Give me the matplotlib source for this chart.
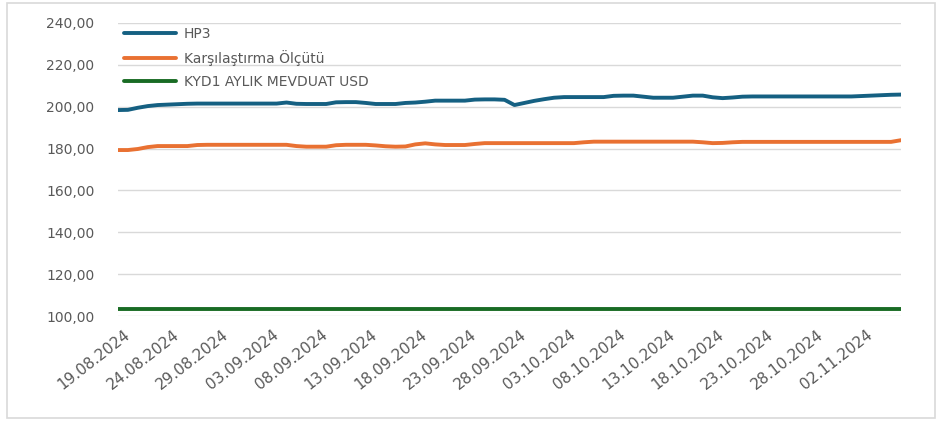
import numpy as np
import pandas as pd
import matplotlib
matplotlib.use("Agg")
import matplotlib.pyplot as plt
import matplotlib.transforms as mtransforms
from matplotlib.patches import Rectangle
from matplotlib.ticker import FuncFormatter, FixedLocator

# daily fund prices, 19.08.2024 - 06.11.2024
dates = pd.date_range("2024-08-19", "2024-11-06", freq="D")

hp3 = [
    198.4, 198.5, 199.5, 200.3, 200.8, 201.0, 201.2, 201.4, 201.5, 201.5,
    201.5, 201.5, 201.5, 201.5, 201.5, 201.5, 201.5, 202.0, 201.4, 201.3,
    201.3, 201.3, 202.1, 202.2, 202.2, 201.8, 201.3, 201.3, 201.3, 201.8,
    202.0, 202.4, 202.9, 202.9, 202.9, 202.9, 203.4, 203.5, 203.5, 203.3,
    200.8, 201.8, 202.8, 203.6, 204.3, 204.6, 204.6, 204.6, 204.6, 204.6,
    205.2, 205.3, 205.3, 204.8, 204.3, 204.3, 204.3, 204.8, 205.3, 205.3,
    204.5, 204.1, 204.4, 204.8, 204.9, 204.9, 204.9, 204.9, 204.9, 204.9,
    204.9, 204.9, 204.9, 204.9, 204.9, 205.1, 205.3, 205.5, 205.7, 205.8,
]

benchmark = [
    179.3, 179.3, 179.8, 180.7, 181.2, 181.2, 181.2, 181.2, 181.7, 181.8,
    181.8, 181.8, 181.8, 181.8, 181.8, 181.8, 181.8, 181.8, 181.2, 180.9,
    180.9, 180.9, 181.6, 181.8, 181.8, 181.8, 181.5, 181.1, 180.9, 181.0,
    182.0, 182.5, 182.0, 181.7, 181.7, 181.7, 182.2, 182.6, 182.6, 182.6,
    182.6, 182.6, 182.6, 182.6, 182.6, 182.6, 182.6, 183.0, 183.3, 183.3,
    183.3, 183.3, 183.3, 183.3, 183.3, 183.3, 183.3, 183.3, 183.3, 183.0,
    182.6, 182.7, 183.0, 183.2, 183.2, 183.2, 183.2, 183.2, 183.2, 183.2,
    183.2, 183.2, 183.2, 183.2, 183.2, 183.2, 183.2, 183.2, 183.2, 184.0,
]

usd_deposit = [
    103.4, 103.4, 103.4, 103.4, 103.4, 103.4, 103.4, 103.4, 103.4, 103.4,
    103.4, 103.4, 103.4, 103.4, 103.4, 103.4, 103.4, 103.4, 103.4, 103.4,
    103.4, 103.4, 103.4, 103.4, 103.4, 103.4, 103.4, 103.4, 103.4, 103.4,
    103.4, 103.4, 103.4, 103.4, 103.4, 103.4, 103.4, 103.4, 103.4, 103.4,
    103.4, 103.4, 103.4, 103.4, 103.4, 103.4, 103.4, 103.4, 103.4, 103.4,
    103.4, 103.4, 103.4, 103.4, 103.4, 103.4, 103.4, 103.4, 103.4, 103.4,
    103.4, 103.4, 103.4, 103.4, 103.4, 103.4, 103.4, 103.4, 103.4, 103.4,
    103.4, 103.4, 103.4, 103.4, 103.4, 103.4, 103.4, 103.4, 103.4, 103.4,
]

series_names = ["HP3", "Karşılaştırma Ölçütü", "KYD1 AYLIK MEVDUAT USD"]
series_colours = ["#156082", "#E97132", "#196B24"]
yticks = [100, 120, 140, 160, 180, 200, 220, 240]
tick_dates = dates[::5]

plt.rcParams["font.family"] = ["DejaVu Sans"]
text_col = "#595959"

fig = plt.figure(figsize=(9.37, 4.21), dpi=100)
ax = fig.add_axes([118 / 937, 105 / 421, 783 / 937, 293 / 421])

# outer chart frame
fig.patches.append(Rectangle((7 / 937, 3 / 421), 928 / 937, 415 / 421,
                             transform=fig.transFigure, fill=False,
                             edgecolor="#d9d9d9", lw=1.2))

for vals, name, col in zip([hp3, benchmark, usd_deposit], series_names, series_colours):
    ax.plot(dates, vals, color=col, lw=2.8, label=name,
            solid_capstyle="round", solid_joinstyle="round", zorder=3)

ax.set_xlim(dates[0], dates[-1])
ax.set_ylim(100, 240)
ax.set_yticks(yticks)
ax.yaxis.set_major_formatter(FuncFormatter(lambda v, p: f"{v:.2f}".replace(".", ",")))
ax.grid(axis="y", color="#d9d9d9", lw=1, zorder=0)
ax.set_axisbelow(True)
for s in ax.spines.values():
    s.set_visible(False)

ax.xaxis.set_major_locator(FixedLocator([matplotlib.dates.date2num(d) for d in tick_dates]))
ax.set_xticklabels([d.strftime("%d.%m.%Y") for d in tick_dates])
ax.tick_params(axis="x", length=0, pad=8, labelsize=11, labelcolor=text_col)
ax.tick_params(axis="y", length=0, pad=17, labelsize=10, labelcolor=text_col)

shift = mtransforms.ScaledTranslation(0.05, 0, fig.dpi_scale_trans)
for lbl in ax.get_xticklabels():
    lbl.set_rotation(38)
    lbl.set_rotation_mode("anchor")
    lbl.set_ha("right")
    lbl.set_va("top")
    lbl.set_transform(lbl.get_transform() + shift)

leg = ax.legend(loc="upper left", bbox_to_anchor=(0.008, 0.986), frameon=False,
                fontsize=10, handlelength=3.7, handletextpad=0.6,
                labelspacing=0.65, borderpad=0, borderaxespad=0)
for t in leg.get_texts():
    t.set_color(text_col)

fig.savefig("out.png", dpi=100)
